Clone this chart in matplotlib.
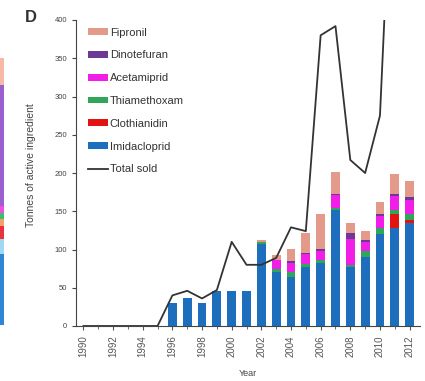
import numpy as np
import matplotlib.pyplot as plt

plt.rcParams['font.family'] = ['Liberation Sans', 'DejaVu Sans']

# years and tonnes of active ingredient
years = list(range(1990, 2013))
bar_years = list(range(1996, 2013))

imidacloprid = [30, 37, 30, 46, 46, 46, 107, 70, 64, 77, 82, 152, 77, 90, 120, 128, 135]
clothianidin = [0, 0, 0, 0, 0, 0, 0, 0, 0, 0, 0, 0, 0, 0, 0, 18, 3]
thiamethoxam = [0, 0, 0, 0, 0, 0, 3, 4, 6, 4, 4, 2, 3, 8, 8, 6, 8]
acetamiprid = [0, 0, 0, 0, 0, 0, 0, 12, 12, 13, 12, 17, 34, 12, 16, 18, 19]
dinotefuran = [0, 0, 0, 0, 0, 0, 0, 0, 3, 2, 3, 2, 7, 3, 2, 2, 3]
fipronil = [0, 0, 0, 0, 0, 0, 3, 7, 15, 25, 46, 28, 13, 11, 16, 27, 22]

total_sold = [0, 0, 0, 0, 0, 0, 40, 46, 36, 47, 110, 80, 80, 89, 129, 124,
              380, 392, 217, 200, 275, 700, 650]

series = [
    ('Imidacloprid', imidacloprid, '#1d6fbd'),
    ('Clothianidin', clothianidin, '#e3140f'),
    ('Thiamethoxam', thiamethoxam, '#2fa65a'),
    ('Acetamiprid', acetamiprid, '#f01ee6'),
    ('Dinotefuran', dinotefuran, '#6b3a92'),
    ('Fipronil', fipronil, '#e49a8a'),
]

# sliver of the neighbouring panel at the left edge (bottom to top)
strip_sizes = [70, 15, 13, 7, 6, 7, 120, 27]
strip_colors = ['#2f86d6', '#9fd8f0', '#e8323c', '#f5a06a', '#3cbf6a',
                '#f04fe0', '#9b5fd0', '#f7b8a8']

fig = plt.figure(figsize=(4.25, 3.81), dpi=100)
ax = fig.add_axes([76 / 425, 1 - 326 / 381, 344 / 425, 306 / 381])

bottom = np.zeros(len(bar_years))
handles = []
for name, vals, col in series:
    h = ax.bar(bar_years, vals, width=0.6, bottom=bottom, color=col, label=name, zorder=2)
    bottom += np.array(vals)
    handles.append(h)

line, = ax.plot(years, total_sold, color='#333333', lw=1.3, label='Total sold', zorder=3)

ax.set_xlim(1989.5, 2012.7)
ax.set_ylim(0, 400)
ax.set_yticks(range(0, 401, 50))
ax.set_xticks(range(1990, 2013, 2))
ax.set_xticks(range(1990, 2013), minor=True)
ax.tick_params(axis='x', labelrotation=90, labelsize=7, length=3, colors='#555555')
ax.tick_params(axis='x', which='minor', length=2, colors='#555555')
ax.tick_params(axis='y', labelsize=5.5, length=3, colors='#444444')
for s in ['top', 'right']:
    ax.spines[s].set_visible(False)
for s in ['left', 'bottom']:
    ax.spines[s].set_color('#444444')
    ax.spines[s].set_linewidth(0.8)

ax.set_xlabel('Year', fontsize=6.5, color='#444444')
ax.xaxis.set_label_coords(0.5, -0.14)
ax.set_ylabel('Tonnes of active ingredient', fontsize=7.5, color='#444444')
ax.yaxis.set_label_coords(-0.115, 0.525)

leg_handles = handles[::-1] + [line]
leg = ax.legend(handles=leg_handles, loc='upper left', bbox_to_anchor=(0.035, 0.975),
                frameon=False, fontsize=8, handlelength=1.8, handleheight=0.55,
                labelspacing=1.15, handletextpad=0.15, borderpad=0, borderaxespad=0)
for txt in leg.get_texts():
    txt.set_color('#333333')

fig.text(25 / 425, 1 - 17 / 381, 'D', fontsize=12, fontweight='bold', color='#333333',
         va='center', ha='left')

# left edge strip
sax = fig.add_axes([0, 1 - 325 / 381, 4 / 425, 267 / 381])
b = 0
for sz, c in zip(strip_sizes, strip_colors):
    sax.bar(0, sz, bottom=b, width=1, color=c)
    b += sz
sax.set_xlim(-0.5, 0.5)
sax.set_ylim(0, b)
sax.axis('off')

fig.savefig('out.png', dpi=100)
